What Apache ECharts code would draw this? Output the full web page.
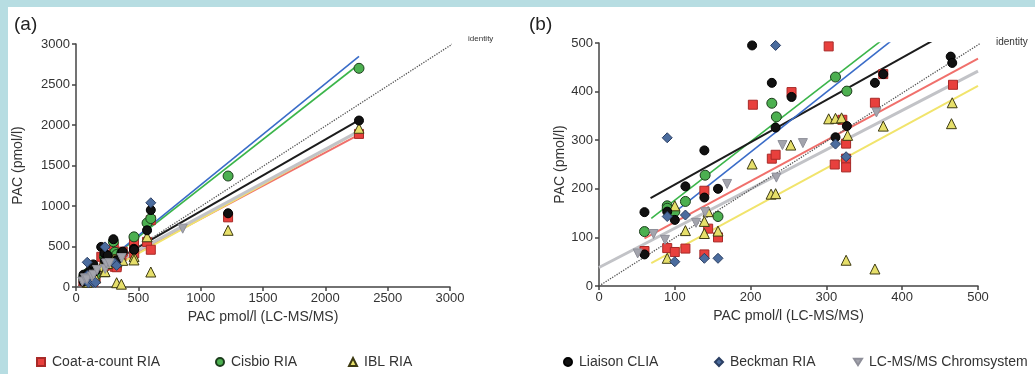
<!DOCTYPE html>
<html>
<head>
<meta charset="utf-8">
<script src="https://cdn.jsdelivr.net/npm/echarts@6.0.0/dist/echarts.min.js"></script>
<style>
  html, body { margin: 0; padding: 0; background: #b7dde2; }
  #chart { position: absolute; left: 8px; top: 7px; width: 1027px; height: 367px; background: #fff; }
</style>
</head>
<body>
<div id="chart"></div>
<script>
// method names (legend order)
const methods = ['Coat-a-count RIA', 'Cisbio RIA', 'IBL RIA', 'Liaison CLIA', 'Beckman RIA', 'LC-MS/MS Chromsystem']

// points in the 0-500 range (panel b), [LC-MS/MS, method]
const coatLow = [[60, 72], [90, 78], [100, 70], [114, 77], [139, 65], [139, 196], [144, 118], [157, 100],
  [203, 373], [228, 262], [233, 270], [254, 399], [303, 493], [311, 250], [321, 342], [326, 293],
  [326, 262], [326, 244], [364, 377], [375, 436], [467, 414]]
const cisbioLow = [[60, 112], [90, 165], [90, 160], [100, 153], [114, 174], [140, 228], [157, 143],
  [228, 376], [234, 348], [312, 430], [327, 401]]
const iblLow = [[90, 57], [100, 165], [114, 114], [139, 133], [139, 108], [144, 153], [157, 113],
  [202, 251], [227, 189], [233, 190], [253, 290], [303, 344], [312, 345], [320, 346], [328, 310],
  [326, 53], [364, 35], [375, 329], [466, 377], [465, 334]]
const liaisonLow = [[60, 152], [60, 65], [90, 153], [100, 136], [114, 205], [139, 279], [139, 182],
  [157, 200], [202, 495], [228, 418], [233, 326], [254, 389], [312, 306], [327, 329], [364, 418],
  [375, 436], [464, 472], [466, 459]]
const beckmanLow = [[90, 305], [90, 143], [100, 50], [114, 146], [139, 57], [157, 57], [233, 495],
  [312, 292], [326, 266]]
const chromLow = [[51, 67], [72, 107], [87, 95], [128, 130], [140, 152], [169, 210], [234, 223],
  [242, 290], [269, 294], [366, 357]]

// extra points only visible in the full range (panel a)
const coatHigh = [[465, 557], [570, 557], [600, 825], [600, 460], [1220, 860], [2270, 1890]]
const cisbioHigh = [[300, 560], [465, 619], [570, 790], [600, 845], [1220, 1370], [2270, 2700]]
const iblHigh = [[570, 620], [600, 185], [1220, 700], [2270, 1960]]
const liaisonHigh = [[300, 590], [570, 700], [600, 950], [1220, 910], [2270, 2055]]
const beckmanHigh = [[600, 1040]]
const chromHigh = [[856, 720]]

// regression lines, start and end points
const fitA = [
  [[40, 53], [2270, 1881]],
  [[40, 63], [2270, 2750]],
  [[40, 24], [2270, 1920]],
  [[40, 85], [2270, 2059]],
  [[40, 60], [2270, 2848]],
  [[40, 73], [2270, 1924]]
]
const fitB = [
  [[60, 98], [500, 468]],
  [[69, 139], [375, 508]],
  [[69, 47], [500, 412]],
  [[68, 181], [445, 509]],
  [[95, 146], [390, 510]],
  [[0, 38], [500, 442]]
]
const identityA = [[0, 0], [3070, 3050]]
const identityB = [[0, 0], [516, 512]]

const ticksA = { min: 0, max: 3000, interval: 500 }
const ticksB = { min: 0, max: 500, interval: 100 }

const lowData = [coatLow, cisbioLow, iblLow, liaisonLow, beckmanLow, chromLow]
const highData = [coatHigh, cisbioHigh, iblHigh, liaisonHigh, beckmanHigh, chromHigh]

const symbols = [
  { symbol: 'rect', size: 9, color: '#e8403d', border: '#a82a28', rotate: 0 },
  { symbol: 'circle', size: 10, color: '#4cb050', border: '#1c3d1c', rotate: 0 },
  { symbol: 'triangle', size: 10, color: '#e6df6a', border: '#3d3a12', rotate: 0 },
  { symbol: 'circle', size: 9, color: '#111111', border: '#000000', rotate: 0 },
  { symbol: 'diamond', size: 10, color: '#4b6c9e', border: '#2b3f63', rotate: 0 },
  { symbol: 'triangle', size: 9, color: '#a3a4ad', border: '#8e8f99', rotate: 180 }
]
const legendIcons = ['rect', 'circle', 'triangle', 'circle', 'diamond', 'path://M0,0 L10,0 L5,8 Z']
const lineColors = ['#f0706c', '#3bb54a', '#3f6fcc', '#1c1c1c', '#3a6cc8', '#c2c3c7']
const lineWidths = [2, 1.6, 2, 2, 1.6, 3]
const yellowLine = '#f1e46c'

const font = 'Liberation Sans, Arial, sans-serif'
const chart = echarts.init(document.getElementById('chart'))

function axis(ticks, gridIndex, name, isY, gap) {
  return {
    type: 'value',
    gridIndex: gridIndex,
    min: ticks.min,
    max: ticks.max,
    interval: ticks.interval,
    name: name,
    nameLocation: 'middle',
    nameGap: gap,
    nameTextStyle: { fontFamily: font, fontSize: 14, color: '#333' },
    axisLine: { show: true, lineStyle: { color: '#444', width: 1.5 } },
    axisTick: { show: true, length: 4, lineStyle: { color: '#444', width: 1.5 } },
    axisLabel: {
      fontFamily: font, fontSize: 13, color: '#333', margin: isY ? 6 : 5,
      formatter: (v) => String(v)
    },
    splitLine: { show: false }
  }
}

const series = []
for (let g = 0; g < 2; g++) {
  const fits = g === 0 ? fitA : fitB
  fits.forEach((f, i) => {
    series.push({
      name: methods[i] + ' fit',
      type: 'line',
      xAxisIndex: g,
      yAxisIndex: g,
      data: f,
      symbol: 'none',
      silent: true,
      z: 2,
      lineStyle: { color: i === 2 ? yellowLine : lineColors[i], width: lineWidths[i] }
    })
  })
  series.push({
    name: 'identity',
    type: 'line',
    xAxisIndex: g,
    yAxisIndex: g,
    data: g === 0 ? identityA : identityB,
    symbol: 'none',
    clip: false,
    silent: true,
    z: 3,
    lineStyle: { color: '#555', width: 1.3, type: 'dotted' },
    endLabel: {
      show: true,
      formatter: 'identity',
      fontFamily: font,
      fontSize: g === 0 ? 8 : 10,
      color: '#333',
      offset: [8, g === 0 ? -5 : -1]
    }
  })
  lowData.forEach((d, i) => {
    const s = symbols[i]
    series.push({
      name: methods[i],
      type: 'scatter',
      xAxisIndex: g,
      yAxisIndex: g,
      data: g === 0 ? d.concat(highData[i]) : d,
      symbol: s.symbol,
      symbolSize: s.size,
      symbolRotate: s.rotate,
      z: 4,
      itemStyle: { color: s.color, borderColor: s.border, borderWidth: 1, opacity: 1 }
    })
  })
}

// marker centres (chart coords) 32, 211, 344, 559, 710, 849
const legendLeft = [28, 207, 340, 555, 706, 845]
const legends = methods.map((m, i) => ({
  data: [{ name: m, icon: legendIcons[i] }],
  left: legendLeft[i],
  top: 348,
  padding: 0,
  itemWidth: 8,
  itemHeight: 8,
  selectedMode: false,
  textStyle: { fontFamily: font, fontSize: 14, color: '#333', padding: [0, 0, 0, 2] }
}))

const option = {
  animation: false,
  title: [
    { text: '(a)', left: 1, top: 3, textStyle: { fontFamily: font, fontSize: 19, fontWeight: 'normal', color: '#222' } },
    { text: '(b)', left: 516, top: 3, textStyle: { fontFamily: font, fontSize: 19, fontWeight: 'normal', color: '#222' } }
  ],
  legend: legends,
  grid: [
    { left: 68, top: 37, width: 374, height: 243 },
    { left: 591, top: 36, width: 379, height: 243 }
  ],
  xAxis: [
    axis(ticksA, 0, 'PAC pmol/l (LC-MS/MS)', false, 21),
    axis(ticksB, 1, 'PAC pmol/l (LC-MS/MS)', false, 21)
  ],
  yAxis: [
    axis(ticksA, 0, 'PAC (pmol/l)', true, 51),
    axis(ticksB, 1, 'PAC (pmol/l)', true, 24)
  ],
  series: series
}
chart.setOption(option)
</script>
</body>
</html>
